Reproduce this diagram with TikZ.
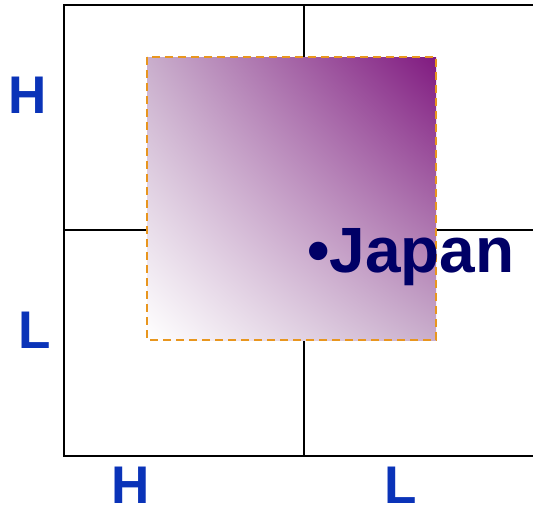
\documentclass[tikz,border=0pt]{standalone}
\usepackage{fontspec}
\setmainfont{Liberation Sans}
\usetikzlibrary{shadings}
\definecolor{axisblue}{HTML}{0A33B8}
\definecolor{navytext}{HTML}{000066}
\definecolor{plum}{HTML}{801A80}
\definecolor{plummid}{HTML}{C9AECC}
\definecolor{dashorange}{HTML}{E8961E}
\tikzset{
  gridline/.style={line width=2.4pt, black},
  axislabel/.style={font=\bfseries\fontsize{53}{53}\selectfont, text=axisblue, inner sep=0pt},
  region/.style={draw=dashorange, line width=1.6pt, dash pattern=on 8pt off 5pt}
}
\begin{document}
\begin{tikzpicture}[x=1pt,y=-1pt]
\useasboundingbox (0,0) rectangle (533,506);
% quadrant grid
\coordinate (tl) at (64,5);
\coordinate (bl) at (64,456);
\draw[gridline] (540,5) -- (tl) -- (bl) -- (540,456);
\draw[gridline] (304,5) -- (304,456);
\draw[gridline] (64,230) -- (540,230);
% shaded region
\shade[lower left=white, upper right=plum, upper left=plummid, lower right=plummid]
  (147,57) rectangle (436,340);
\draw[region] (147,57) rectangle (436,340);
% axis labels
\node[axislabel] (yh) at (28,95) {H};
\node[axislabel] (yl) at (35,330) {L};
\node[axislabel] (xh) at (131,485) {H};
\node[axislabel] (xl) at (401,485) {L};
% point label
\node[anchor=base west, inner sep=0pt, text=navytext,
      font=\bfseries\fontsize{64}{64}\selectfont] (japan) at (307,272) {•Japan};
\end{tikzpicture}
\end{document}
